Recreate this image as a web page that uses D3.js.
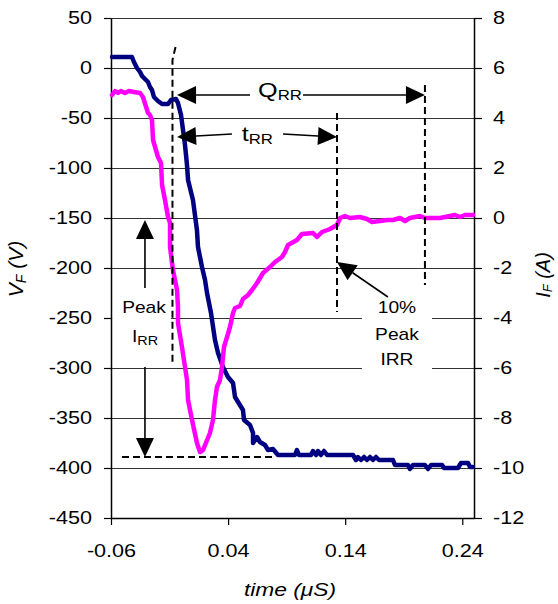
<!DOCTYPE html>
<html>
<head>
<meta charset="utf-8">
<script src="https://cdn.jsdelivr.net/npm/d3@7"></script>
<style>
body { margin: 0; background: #fff; }
svg { display: block; font-family: "Liberation Sans", Arial, sans-serif; }
</style>
</head>
<body>
<div id="chart"></div>
<script>
// tick values / labels
const xTicks = [-0.06, 0.04, 0.14, 0.24];
const xTickLabels = ["-0.06", "0.04", "0.14", "0.24"];
const vTicks = [-450, -400, -350, -300, -250, -200, -150, -100, -50, 0, 50];
const iTicks = [-12, -10, -8, -6, -4, -2, 0, 2, 4, 6, 8];

// V_F (left axis, volts) : [time us, V]
const vfPoints = [
  [-0.0591, 11], [-0.0421, 11], [-0.0404, 6], [-0.0378, 0], [-0.0352, -4], [-0.0335, -8],
  [-0.0310, -11], [-0.0284, -14], [-0.0267, -19], [-0.0250, -22], [-0.0233, -29], [-0.0199, -33],
  [-0.0164, -36], [-0.0113, -36], [-0.0088, -32], [-0.0045, -31], [-0.0028, -35], [-0.0002, -47],
  [0.0015, -62], [0.0032, -77], [0.0049, -97], [0.0058, -112], [0.0100, -132], [0.0134, -162],
  [0.0143, -179], [0.0177, -199], [0.0203, -212], [0.0220, -225], [0.0254, -245], [0.0288, -272],
  [0.0314, -285], [0.0356, -299], [0.0399, -309], [0.0442, -315], [0.0459, -329], [0.0485, -334],
  [0.0527, -342], [0.0536, -352], [0.0587, -357], [0.0613, -365], [0.0613, -375], [0.0647, -369],
  [0.0672, -374], [0.0715, -377], [0.0741, -382], [0.0783, -381], [0.0826, -387], [0.0971, -387],
  [0.0988, -382], [0.1005, -387], [0.1108, -387], [0.1125, -383], [0.1151, -387], [0.1168, -383],
  [0.1193, -387], [0.1219, -383], [0.1245, -387], [0.1467, -387], [0.1492, -392], [0.1509, -389],
  [0.1535, -392], [0.1561, -389], [0.1586, -392], [0.1612, -389], [0.1637, -392], [0.1663, -389],
  [0.1689, -392], [0.1808, -392], [0.1825, -397], [0.1936, -397], [0.1953, -401], [0.1979, -397],
  [0.2081, -397], [0.2107, -401], [0.2133, -397], [0.2227, -397], [0.2244, -400], [0.2363, -400],
  [0.2389, -395], [0.2449, -395], [0.2466, -399], [0.2491, -399]
];

// I_F (right axis, amps) : [time us, A]
const ifPoints = [
  [-0.0591, 4.92], [-0.0565, 5.08], [-0.0540, 5.00], [-0.0515, 5.08], [-0.0481, 5.00], [-0.0447, 5.08],
  [-0.0404, 5.04], [-0.0352, 5.00], [-0.0327, 4.84], [-0.0284, 4.20], [-0.0267, 4.12], [-0.0250, 3.92],
  [-0.0241, 3.12], [-0.0199, 2.44], [-0.0173, 2.20], [-0.0164, 1.32], [-0.0139, 0.72], [-0.0113, 0.04],
  [-0.0096, -0.20], [-0.0096, -1.16], [-0.0071, -2.08], [-0.0036, -2.88], [-0.0028, -3.56], [-0.0028, -4.20],
  [0.0006, -5.16], [0.0032, -5.96], [0.0049, -6.48], [0.0058, -7.28], [0.0092, -8.08], [0.0134, -9.00],
  [0.0160, -9.36], [0.0186, -9.28], [0.0245, -8.60], [0.0271, -8.08], [0.0288, -7.28], [0.0305, -6.76],
  [0.0331, -6.48], [0.0348, -5.96], [0.0365, -5.16], [0.0391, -4.76], [0.0416, -4.36], [0.0442, -3.80],
  [0.0459, -3.60], [0.0502, -3.52], [0.0527, -3.24], [0.0570, -3.08], [0.0604, -2.88], [0.0647, -2.60],
  [0.0698, -2.20], [0.0758, -1.96], [0.0801, -1.76], [0.0860, -1.56], [0.0886, -1.36], [0.0912, -1.08],
  [0.0988, -0.88], [0.1031, -0.64], [0.1125, -0.60], [0.1159, -0.76], [0.1202, -0.56], [0.1270, -0.44],
  [0.1330, -0.28], [0.1356, 0.00], [0.1398, 0.08], [0.1441, 0.00], [0.1526, 0.04], [0.1586, -0.04],
  [0.1629, -0.16], [0.1697, -0.12], [0.1757, -0.08], [0.1808, -0.08], [0.1868, 0.00], [0.1911, -0.12],
  [0.1953, 0.00], [0.2039, 0.08], [0.2081, 0.00], [0.2210, 0.00], [0.2338, 0.12], [0.2380, 0.04],
  [0.2423, 0.12], [0.2491, 0.12]
];

// annotations, in (time, V) units of the left axis
const dashLines = [
  [[-0.0049, 21], [-0.0075, 8], [-0.0075, -294]],
  [[0.133, -45], [0.133, -244]],
  [[0.2081, -17], [0.2081, -217]],
  [[-0.0506, -389], [0.0783, -389]]
];
const arrows = [
  [[0.0587, -27], [-0.0036, -27]],
  [[0.104, -27], [0.2081, -27]],
  [[0.0433, -66], [-0.0036, -69]],
  [[0.0869, -66], [0.133, -69]],
  [[-0.031, -220], [-0.031, -152]],
  [[-0.031, -299], [-0.031, -389]],
  [[0.1765, -229], [0.133, -194]]
];
const boxes = [
  [[-0.059, -220], [-0.0088, -298]],
  [[0.1543, -230], [0.2141, -304]]
];

const W = 558, H = 604;
const SX = 1.2; // text in the picture is drawn a bit wide

const svg = d3.select("#chart").append("svg")
    .attr("width", W)
    .attr("height", H);

const x = d3.scaleLinear().domain([-0.06, 0.25]).range([111, 474]);
const yV = d3.scaleLinear().domain([-450, 50]).range([518, 18]);
const yI = d3.scaleLinear().domain([-12, 8]).range([518, 18]);

// gridlines
svg.append("g").selectAll("line").data(vTicks).join("line")
    .attr("x1", x.range()[0]).attr("x2", x.range()[1])
    .attr("y1", d => yV(d) + 0.5).attr("y2", d => yV(d) + 0.5)
    .attr("stroke", "#333").attr("stroke-width", 1);

// white text boxes
svg.append("g").selectAll("rect").data(boxes).join("rect")
    .attr("x", d => x(d[0][0])).attr("y", d => yV(d[0][1]))
    .attr("width", d => x(d[1][0]) - x(d[0][0]))
    .attr("height", d => yV(d[1][1]) - yV(d[0][1]))
    .attr("fill", "#fff");

function stretchTicks(g) {
  g.attr("font-family", null).attr("font-size", 18);
  g.select(".domain").attr("stroke-width", 1.5);
  g.selectAll(".tick line").attr("stroke-width", 1.2);
  g.selectAll("text").each(function () {
    const t = d3.select(this);
    const xx = +t.attr("x") || 0, yy = +t.attr("y") || 0;
    t.attr("x", 0).attr("y", 0).attr("transform", "translate(" + xx + "," + yy + ") scale(" + SX + ",1)");
  });
}

svg.append("g")
    .attr("transform", "translate(" + x.range()[0] + ",0)")
    .call(d3.axisLeft(yV).tickValues(vTicks).tickFormat(d => String(d)).tickSize(7).tickSizeOuter(0).tickPadding(12))
    .call(stretchTicks);

svg.append("g")
    .attr("transform", "translate(" + x.range()[1] + ",0)")
    .call(d3.axisRight(yI).tickValues(iTicks).tickFormat(d => String(d)).tickSize(8).tickSizeOuter(0).tickPadding(11))
    .call(stretchTicks);

svg.append("g")
    .attr("transform", "translate(0," + yV.range()[0] + ")")
    .call(d3.axisBottom(x).tickValues(xTicks).tickFormat((d, i) => xTickLabels[i]).tickSize(7).tickSizeOuter(0).tickPadding(19))
    .call(stretchTicks);

// series
const vLine = d3.line().x(d => x(d[0])).y(d => yV(d[1]));
const iLine = d3.line().x(d => x(d[0])).y(d => yI(d[1]));

svg.append("path").datum(vfPoints)
    .attr("d", vLine).attr("fill", "none")
    .attr("stroke", "#000080").attr("stroke-width", 4.5)
    .attr("stroke-linejoin", "round").attr("stroke-linecap", "round");

svg.append("path").datum(ifPoints)
    .attr("d", iLine).attr("fill", "none")
    .attr("stroke", "#ff00ff").attr("stroke-width", 4.5)
    .attr("stroke-linejoin", "round").attr("stroke-linecap", "round");

// dashed markers
svg.append("g").selectAll("path").data(dashLines).join("path")
    .attr("d", vLine).attr("fill", "none")
    .attr("stroke", "#000").attr("stroke-width", 2)
    .attr("stroke-dasharray", "7,4");

// arrows
const ag = svg.append("g");
arrows.forEach(function (a) {
  const x0 = x(a[0][0]), y0 = yV(a[0][1]), x1 = x(a[1][0]), y1 = yV(a[1][1]);
  const ang = Math.atan2(y1 - y0, x1 - x0), L = 19, hw = 9;
  const bx = x1 - L * Math.cos(ang), by = y1 - L * Math.sin(ang);
  ag.append("line")
      .attr("x1", x0).attr("y1", y0).attr("x2", bx).attr("y2", by)
      .attr("stroke", "#000").attr("stroke-width", 1.6);
  ag.append("path")
      .attr("d", "M" + x1 + "," + y1 +
        "L" + (bx + hw * Math.sin(ang)) + "," + (by - hw * Math.cos(ang)) +
        "L" + (bx - hw * Math.sin(ang)) + "," + (by + hw * Math.cos(ang)) + "Z")
      .attr("fill", "#000");
});

// labels
function hText(t, v, size, style) {
  return svg.append("text")
      .attr("transform", "translate(" + x(t) + "," + yV(v) + ") scale(" + SX + ",1)")
      .attr("font-size", size)
      .attr("font-style", style || null)
      .attr("text-anchor", "middle");
}

let q = hText(0.0843, -29, 21);
q.append("tspan").text("Q");
q.append("tspan").attr("font-size", 14).attr("dy", 3).text("RR");

let tr = hText(0.065, -73, 21);
tr.append("tspan").text("t");
tr.append("tspan").attr("font-size", 14).attr("dy", 3).text("RR");

hText(-0.0318, -245, 16).text("Peak");
let irr = hText(-0.031, -274, 16);
irr.append("tspan").text("I");
irr.append("tspan").attr("font-size", 12).attr("dy", 3).text("RR");

hText(0.1842, -245, 16).text("10%");
hText(0.1842, -272, 16).text("Peak");
hText(0.1842, -297, 16).text("IRR");

// axis titles
let xt = svg.append("text")
    .attr("transform", "translate(290,596) scale(" + SX + ",1)")
    .attr("font-size", 19).attr("font-style", "italic")
    .attr("text-anchor", "middle")
    .text("time (\u03bcS)");

let lt = svg.append("text")
    .attr("transform", "translate(23,269) rotate(-90)")
    .attr("font-size", 21).attr("font-style", "italic")
    .attr("text-anchor", "middle");
lt.append("tspan").text("V");
lt.append("tspan").attr("font-size", 14).attr("dy", 3).text("F");
lt.append("tspan").attr("dy", -3).text(" (V)");

let rt = svg.append("text")
    .attr("transform", "translate(550,275) rotate(-90)")
    .attr("font-size", 20).attr("font-style", "italic")
    .attr("text-anchor", "middle");
rt.append("tspan").text("I");
rt.append("tspan").attr("font-size", 13).attr("dy", 2).text("F");
rt.append("tspan").attr("dy", -2).text(" (A)");
</script>
</body>
</html>
